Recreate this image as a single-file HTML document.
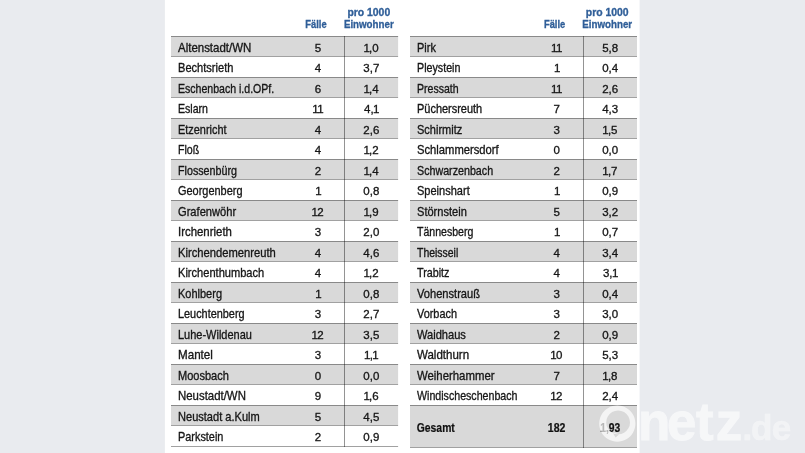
<!DOCTYPE html>
<html lang="de">
<head>
<meta charset="utf-8">
<title>Fälle pro 1000 Einwohner</title>
<style>
html,body{margin:0;padding:0;background:#e9ebef;}
body{width:805px;height:453px;overflow:hidden;position:relative;}
svg{display:block;position:absolute;left:0;top:0;will-change:transform;}
text{font-family:"Liberation Sans",sans-serif;}
.n{font-size:11.9px;fill:#161616;stroke:#161616;stroke-width:.32px;}
.v{font-size:11.5px;fill:#161616;stroke:#161616;stroke-width:.32px;text-anchor:middle;}
.s{text-anchor:start;}
.b{font-weight:bold;font-size:12px;fill:#111;stroke:#111;stroke-width:.2px;}
.h{font-weight:bold;font-size:11px;fill:#2f5e98;stroke:#2f5e98;stroke-width:.32px;text-anchor:middle;}
.wm{font-weight:bold;fill:#fff;}
</style>
</head>
<body>
<svg width="805" height="453" viewBox="0 0 805 453">
<rect x="0" y="0" width="805" height="453" fill="#e9ebef"/>
<rect x="164.9" y="0" width="474.7" height="453" fill="#ffffff"/>

<rect x="171" y="36" width="227.1" height="20" fill="#d9d9d9"/>
<rect x="171" y="77" width="227.1" height="20" fill="#d9d9d9"/>
<rect x="171" y="118" width="227.1" height="20" fill="#d9d9d9"/>
<rect x="171" y="159" width="227.1" height="20" fill="#d9d9d9"/>
<rect x="171" y="200" width="227.1" height="20" fill="#d9d9d9"/>
<rect x="171" y="241" width="227.1" height="20" fill="#d9d9d9"/>
<rect x="171" y="282" width="227.1" height="20" fill="#d9d9d9"/>
<rect x="171" y="323" width="227.1" height="20" fill="#d9d9d9"/>
<rect x="171" y="364" width="227.1" height="20" fill="#d9d9d9"/>
<rect x="171" y="405" width="227.1" height="20" fill="#d9d9d9"/>
<rect x="171" y="36" width="227.1" height="1" fill="#000" fill-opacity=".37"/>
<rect x="171" y="56" width="227.1" height="1" fill="#000" fill-opacity=".37"/>
<rect x="171" y="77" width="227.1" height="1" fill="#000" fill-opacity=".37"/>
<rect x="171" y="97" width="227.1" height="1" fill="#000" fill-opacity=".37"/>
<rect x="171" y="118" width="227.1" height="1" fill="#000" fill-opacity=".37"/>
<rect x="171" y="138" width="227.1" height="1" fill="#000" fill-opacity=".37"/>
<rect x="171" y="159" width="227.1" height="1" fill="#000" fill-opacity=".37"/>
<rect x="171" y="179" width="227.1" height="1" fill="#000" fill-opacity=".37"/>
<rect x="171" y="200" width="227.1" height="1" fill="#000" fill-opacity=".37"/>
<rect x="171" y="220" width="227.1" height="1" fill="#000" fill-opacity=".37"/>
<rect x="171" y="241" width="227.1" height="1" fill="#000" fill-opacity=".37"/>
<rect x="171" y="261" width="227.1" height="1" fill="#000" fill-opacity=".37"/>
<rect x="171" y="282" width="227.1" height="1" fill="#000" fill-opacity=".37"/>
<rect x="171" y="302" width="227.1" height="1" fill="#000" fill-opacity=".37"/>
<rect x="171" y="323" width="227.1" height="1" fill="#000" fill-opacity=".37"/>
<rect x="171" y="343" width="227.1" height="1" fill="#000" fill-opacity=".37"/>
<rect x="171" y="364" width="227.1" height="1" fill="#000" fill-opacity=".37"/>
<rect x="171" y="384" width="227.1" height="1" fill="#000" fill-opacity=".37"/>
<rect x="171" y="405" width="227.1" height="1" fill="#000" fill-opacity=".37"/>
<rect x="171" y="425" width="227.1" height="1" fill="#000" fill-opacity=".37"/>
<rect x="171" y="446" width="227.1" height="1" fill="#000" fill-opacity=".37"/>
<rect x="344" y="36" width="1" height="411" fill="#000" fill-opacity=".42"/>
<text class="n" x="178" y="51.9" textLength="73.3" lengthAdjust="spacingAndGlyphs">Altenstadt/WN</text>
<text class="v" x="317.9" y="51.9">5</text>
<text class="v s" x="363.4 369 372.2" y="51.9">1,0</text>
<text class="n" x="178" y="72.4" textLength="55.4" lengthAdjust="spacingAndGlyphs">Bechtsrieth</text>
<text class="v" x="317.9" y="72.4">4</text>
<text class="v" x="371.3" y="72.4">3,7</text>
<text class="n" x="178" y="92.9" textLength="96.2" lengthAdjust="spacingAndGlyphs">Eschenbach i.d.OPf.</text>
<text class="v" x="317.9" y="92.9">6</text>
<text class="v s" x="363.4 369 372.2" y="92.9">1,4</text>
<text class="n" x="178" y="113.4" textLength="30" lengthAdjust="spacingAndGlyphs">Eslarn</text>
<text class="v s" x="312.3 317.3" y="113.4">11</text>
<text class="v s" x="364 370.4 373" y="113.4">4,1</text>
<text class="n" x="178" y="133.9" textLength="48.5" lengthAdjust="spacingAndGlyphs">Etzenricht</text>
<text class="v" x="317.9" y="133.9">4</text>
<text class="v" x="371.3" y="133.9">2,6</text>
<text class="n" x="178" y="154.4" textLength="21.3" lengthAdjust="spacingAndGlyphs">Floß</text>
<text class="v" x="317.9" y="154.4">4</text>
<text class="v s" x="363.4 369 372.2" y="154.4">1,2</text>
<text class="n" x="178" y="174.9" textLength="59" lengthAdjust="spacingAndGlyphs">Flossenbürg</text>
<text class="v" x="317.9" y="174.9">2</text>
<text class="v s" x="363.4 369 372.2" y="174.9">1,4</text>
<text class="n" x="178" y="195.4" textLength="64.5" lengthAdjust="spacingAndGlyphs">Georgenberg</text>
<text class="v s" x="315.3" y="195.4">1</text>
<text class="v" x="371.3" y="195.4">0,8</text>
<text class="n" x="178" y="215.9" textLength="58.1" lengthAdjust="spacingAndGlyphs">Grafenwöhr</text>
<text class="v s" x="311.6 317.2" y="215.9">12</text>
<text class="v s" x="363.4 369 372.2" y="215.9">1,9</text>
<text class="n" x="178" y="236.4" textLength="53.9" lengthAdjust="spacingAndGlyphs">Irchenrieth</text>
<text class="v" x="317.9" y="236.4">3</text>
<text class="v" x="371.3" y="236.4">2,0</text>
<text class="n" x="178" y="256.9" textLength="97.8" lengthAdjust="spacingAndGlyphs">Kirchendemenreuth</text>
<text class="v" x="317.9" y="256.9">4</text>
<text class="v" x="371.3" y="256.9">4,6</text>
<text class="n" x="178" y="277.4" textLength="86.2" lengthAdjust="spacingAndGlyphs">Kirchenthumbach</text>
<text class="v" x="317.9" y="277.4">4</text>
<text class="v s" x="363.4 369 372.2" y="277.4">1,2</text>
<text class="n" x="178" y="297.9" textLength="44" lengthAdjust="spacingAndGlyphs">Kohlberg</text>
<text class="v s" x="315.3" y="297.9">1</text>
<text class="v" x="371.3" y="297.9">0,8</text>
<text class="n" x="178" y="318.4" textLength="66.6" lengthAdjust="spacingAndGlyphs">Leuchtenberg</text>
<text class="v" x="317.9" y="318.4">3</text>
<text class="v" x="371.3" y="318.4">2,7</text>
<text class="n" x="178" y="338.9" textLength="73.9" lengthAdjust="spacingAndGlyphs">Luhe-Wildenau</text>
<text class="v s" x="311.6 317.2" y="338.9">12</text>
<text class="v" x="371.3" y="338.9">3,5</text>
<text class="n" x="178" y="359.4" textLength="34.9" lengthAdjust="spacingAndGlyphs">Mantel</text>
<text class="v" x="317.9" y="359.4">3</text>
<text class="v s" x="364.1 369.7 372.3" y="359.4">1,1</text>
<text class="n" x="178" y="379.9" textLength="50.9" lengthAdjust="spacingAndGlyphs">Moosbach</text>
<text class="v" x="317.9" y="379.9">0</text>
<text class="v" x="371.3" y="379.9">0,0</text>
<text class="n" x="178" y="400.4" textLength="67.9" lengthAdjust="spacingAndGlyphs">Neustadt/WN</text>
<text class="v" x="317.9" y="400.4">9</text>
<text class="v s" x="363.4 369 372.2" y="400.4">1,6</text>
<text class="n" x="178" y="420.9" textLength="81.7" lengthAdjust="spacingAndGlyphs">Neustadt a.Kulm</text>
<text class="v" x="317.9" y="420.9">5</text>
<text class="v" x="371.3" y="420.9">4,5</text>
<text class="n" x="178" y="441.4" textLength="45.4" lengthAdjust="spacingAndGlyphs">Parkstein</text>
<text class="v" x="317.9" y="441.4">2</text>
<text class="v" x="371.3" y="441.4">0,9</text>
<rect x="410" y="36" width="227" height="20" fill="#d9d9d9"/>
<rect x="410" y="77" width="227" height="20" fill="#d9d9d9"/>
<rect x="410" y="118" width="227" height="20" fill="#d9d9d9"/>
<rect x="410" y="159" width="227" height="20" fill="#d9d9d9"/>
<rect x="410" y="200" width="227" height="20" fill="#d9d9d9"/>
<rect x="410" y="241" width="227" height="20" fill="#d9d9d9"/>
<rect x="410" y="282" width="227" height="20" fill="#d9d9d9"/>
<rect x="410" y="323" width="227" height="20" fill="#d9d9d9"/>
<rect x="410" y="364" width="227" height="20" fill="#d9d9d9"/>
<rect x="410" y="405" width="227" height="42" fill="#d9d9d9"/>
<rect x="410" y="36" width="227" height="1" fill="#000" fill-opacity=".37"/>
<rect x="410" y="56" width="227" height="1" fill="#000" fill-opacity=".37"/>
<rect x="410" y="77" width="227" height="1" fill="#000" fill-opacity=".37"/>
<rect x="410" y="97" width="227" height="1" fill="#000" fill-opacity=".37"/>
<rect x="410" y="118" width="227" height="1" fill="#000" fill-opacity=".37"/>
<rect x="410" y="138" width="227" height="1" fill="#000" fill-opacity=".37"/>
<rect x="410" y="159" width="227" height="1" fill="#000" fill-opacity=".37"/>
<rect x="410" y="179" width="227" height="1" fill="#000" fill-opacity=".37"/>
<rect x="410" y="200" width="227" height="1" fill="#000" fill-opacity=".37"/>
<rect x="410" y="220" width="227" height="1" fill="#000" fill-opacity=".37"/>
<rect x="410" y="241" width="227" height="1" fill="#000" fill-opacity=".37"/>
<rect x="410" y="261" width="227" height="1" fill="#000" fill-opacity=".37"/>
<rect x="410" y="282" width="227" height="1" fill="#000" fill-opacity=".37"/>
<rect x="410" y="302" width="227" height="1" fill="#000" fill-opacity=".37"/>
<rect x="410" y="323" width="227" height="1" fill="#000" fill-opacity=".37"/>
<rect x="410" y="343" width="227" height="1" fill="#000" fill-opacity=".37"/>
<rect x="410" y="364" width="227" height="1" fill="#000" fill-opacity=".37"/>
<rect x="410" y="384" width="227" height="1" fill="#000" fill-opacity=".37"/>
<rect x="410" y="405" width="227" height="1" fill="#000" fill-opacity=".37"/>
<rect x="410" y="447" width="227" height="1" fill="#000" fill-opacity=".37"/>
<rect x="583" y="36" width="1" height="412" fill="#000" fill-opacity=".42"/>
<text class="n" x="417" y="51.9" textLength="18.9" lengthAdjust="spacingAndGlyphs">Pirk</text>
<text class="v s" x="551 556" y="51.9">11</text>
<text class="v" x="610.2" y="51.9">5,8</text>
<text class="n" x="417" y="72.4" textLength="43.4" lengthAdjust="spacingAndGlyphs">Pleystein</text>
<text class="v s" x="554" y="72.4">1</text>
<text class="v" x="610.2" y="72.4">0,4</text>
<text class="n" x="417" y="92.9" textLength="41.6" lengthAdjust="spacingAndGlyphs">Pressath</text>
<text class="v s" x="551 556" y="92.9">11</text>
<text class="v" x="610.2" y="92.9">2,6</text>
<text class="n" x="417" y="113.4" textLength="65.2" lengthAdjust="spacingAndGlyphs">Püchersreuth</text>
<text class="v" x="556.6" y="113.4">7</text>
<text class="v" x="610.2" y="113.4">4,3</text>
<text class="n" x="417" y="133.9" textLength="45.2" lengthAdjust="spacingAndGlyphs">Schirmitz</text>
<text class="v" x="556.6" y="133.9">3</text>
<text class="v s" x="602.3 607.9 611.1" y="133.9">1,5</text>
<text class="n" x="417" y="154.4" textLength="81.7" lengthAdjust="spacingAndGlyphs">Schlammersdorf</text>
<text class="v" x="556.6" y="154.4">0</text>
<text class="v" x="610.2" y="154.4">0,0</text>
<text class="n" x="417" y="174.9" textLength="76.1" lengthAdjust="spacingAndGlyphs">Schwarzenbach</text>
<text class="v" x="556.6" y="174.9">2</text>
<text class="v s" x="602.3 607.9 611.1" y="174.9">1,7</text>
<text class="n" x="417" y="195.4" textLength="52.7" lengthAdjust="spacingAndGlyphs">Speinshart</text>
<text class="v s" x="554" y="195.4">1</text>
<text class="v" x="610.2" y="195.4">0,9</text>
<text class="n" x="417" y="215.9" textLength="49.8" lengthAdjust="spacingAndGlyphs">Störnstein</text>
<text class="v" x="556.6" y="215.9">5</text>
<text class="v" x="610.2" y="215.9">3,2</text>
<text class="n" x="417" y="236.4" textLength="56.3" lengthAdjust="spacingAndGlyphs">Tännesberg</text>
<text class="v s" x="554" y="236.4">1</text>
<text class="v" x="610.2" y="236.4">0,7</text>
<text class="n" x="417" y="256.9" textLength="41.2" lengthAdjust="spacingAndGlyphs">Theisseil</text>
<text class="v" x="556.6" y="256.9">4</text>
<text class="v" x="610.2" y="256.9">3,4</text>
<text class="n" x="417" y="277.4" textLength="32.5" lengthAdjust="spacingAndGlyphs">Trabitz</text>
<text class="v" x="556.6" y="277.4">4</text>
<text class="v s" x="602.9 609.3 611.9" y="277.4">3,1</text>
<text class="n" x="417" y="297.9" textLength="63" lengthAdjust="spacingAndGlyphs">Vohenstrauß</text>
<text class="v" x="556.6" y="297.9">3</text>
<text class="v" x="610.2" y="297.9">0,4</text>
<text class="n" x="417" y="318.4" textLength="40" lengthAdjust="spacingAndGlyphs">Vorbach</text>
<text class="v" x="556.6" y="318.4">3</text>
<text class="v" x="610.2" y="318.4">3,0</text>
<text class="n" x="417" y="338.9" textLength="48.9" lengthAdjust="spacingAndGlyphs">Waidhaus</text>
<text class="v" x="556.6" y="338.9">2</text>
<text class="v" x="610.2" y="338.9">0,9</text>
<text class="n" x="417" y="359.4" textLength="52.1" lengthAdjust="spacingAndGlyphs">Waldthurn</text>
<text class="v s" x="550.3 555.9" y="359.4">10</text>
<text class="v" x="610.2" y="359.4">5,3</text>
<text class="n" x="417" y="379.9" textLength="77.5" lengthAdjust="spacingAndGlyphs">Weiherhammer</text>
<text class="v" x="556.6" y="379.9">7</text>
<text class="v s" x="602.3 607.9 611.1" y="379.9">1,8</text>
<text class="n" x="417" y="400.4" textLength="100.5" lengthAdjust="spacingAndGlyphs">Windischeschenbach</text>
<text class="v s" x="550.3 555.9" y="400.4">12</text>
<text class="v" x="610.2" y="400.4">2,4</text>
<text class="b" x="416.8" y="431.5" textLength="38.0" lengthAdjust="spacingAndGlyphs">Gesamt</text>
<text class="b" x="556.6" y="431.5" text-anchor="middle" textLength="17.6" lengthAdjust="spacingAndGlyphs">182</text>
<text class="b" x="610.3" y="431.5" text-anchor="middle" textLength="20.0" lengthAdjust="spacingAndGlyphs">1,93</text>
<text class="h" x="316.0" y="27.7" textLength="21.4" lengthAdjust="spacingAndGlyphs">Fälle</text>
<text class="h" x="368.8" y="15.9" textLength="42.8" lengthAdjust="spacingAndGlyphs">pro 1000</text>
<text class="h" x="368.8" y="27.7" textLength="49.8" lengthAdjust="spacingAndGlyphs">Einwohner</text>
<text class="h" x="554.6" y="27.7" textLength="21.4" lengthAdjust="spacingAndGlyphs">Fälle</text>
<text class="h" x="607.2" y="15.9" textLength="42.8" lengthAdjust="spacingAndGlyphs">pro 1000</text>
<text class="h" x="607.2" y="27.7" textLength="49.8" lengthAdjust="spacingAndGlyphs">Einwohner</text>
<path fill="#ffffff" fill-opacity="0.7" fill-rule="evenodd" d="M617.3 405.5a18.1 18.1 0 1 0 0.01 0zM618.1 410.5a11.9 11.9 0 1 1 -0.01 0zM612.6 432.6L615.6 437.6L619.2 434.2z"/>
<g opacity="0.6"><text class="wm" x="638 666.9 695.9 715.8" y="439.8" font-size="53" stroke="#fff" stroke-width="0.8">netz</text></g>
<g opacity="0.42"><text class="wm" x="742.4 751.1 771.8" y="439.8" font-size="35" stroke="#fff" stroke-width="0.6">.de</text></g>
</svg>
</body>
</html>
